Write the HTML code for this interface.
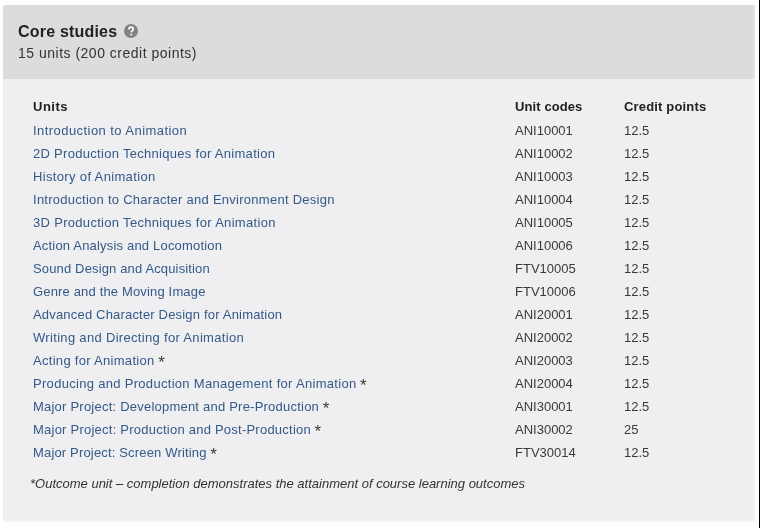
<!DOCTYPE html>
<html><head><meta charset="utf-8">
<style>
html,body{margin:0;padding:0;background:#fefefe;width:760px;height:528px;overflow:hidden;position:relative;font-family:"Liberation Sans",sans-serif;}
#vline{position:absolute;left:759px;top:0;width:1px;height:528px;background:#000;}
#panel{position:absolute;left:3px;top:5px;width:752px;height:517px;background:#f4f4f5;border-radius:2px;overflow:hidden;}
#bodyp{position:absolute;left:0;top:74px;width:750px;height:441px;background:#efeef0;}
#hdr{position:absolute;left:0;top:0;width:750px;height:74px;background:#dcdcdc;border-right:2px solid #e3e3e3;}
#title{position:absolute;left:15px;top:18px;font-size:16px;letter-spacing:0.2px;font-weight:bold;color:#222;white-space:nowrap;}
#q{position:absolute;left:121px;top:19px;width:14px;height:14px;border-radius:50%;background:#828282;}
#sub{position:absolute;left:15px;top:40px;font-size:14px;letter-spacing:0.5px;color:#333;white-space:nowrap;}
.t{position:absolute;white-space:nowrap;font-size:13px;line-height:15px;color:#3a3a3a;}
.c{left:515px;}
.p{left:624px;}
.h{font-weight:bold;color:#222;top:99px;}
.l{color:#335a89;}
.a{font-size:17px;line-height:0;position:relative;top:3px;margin-left:3.6px;}
#foot{position:absolute;left:30px;top:476px;font-size:13px;font-style:italic;color:#333;white-space:nowrap;}
#wrap{position:absolute;left:0;top:0;width:760px;height:528px;will-change:transform;}
</style></head><body><div id="wrap">
<div id="panel"><div id="bodyp"></div>
  <div id="hdr">
    <div id="title">Core studies</div>
    <div id="q"><svg width="14" height="14" viewBox="0 0 14 14"><path d="M4.9 5.4C4.9 3.9 5.8 3.1 7.1 3.1C8.4 3.1 9.3 3.9 9.3 5.1C9.3 6.5 7.3 6.7 7.3 8.3" fill="none" stroke="#fff" stroke-width="1.7"/><circle cx="7.3" cy="10.6" r="1.0" fill="#fff"/></svg></div>
    <div id="sub">15 units (200 credit points)</div>
  </div>
</div>
<div id="vline"></div>
<div class="t h" style="left:33px;letter-spacing:0.5px">Units</div>
<div class="t h c" style="letter-spacing:0.1px">Unit codes</div>
<div class="t h p" style="letter-spacing:0.17px">Credit points</div>
<div class="t" style="top:123px;left:33px"><span class="l" style="letter-spacing:0.442px">Introduction to Animation</span></div>
<div class="t c" style="top:123px">ANI10001</div>
<div class="t p" style="top:123px">12.5</div>
<div class="t" style="top:146px;left:33px"><span class="l" style="letter-spacing:0.297px">2D Production Techniques for Animation</span></div>
<div class="t c" style="top:146px">ANI10002</div>
<div class="t p" style="top:146px">12.5</div>
<div class="t" style="top:169px;left:33px"><span class="l" style="letter-spacing:0.347px">History of Animation</span></div>
<div class="t c" style="top:169px">ANI10003</div>
<div class="t p" style="top:169px">12.5</div>
<div class="t" style="top:192px;left:33px"><span class="l" style="letter-spacing:0.264px">Introduction to Character and Environment Design</span></div>
<div class="t c" style="top:192px">ANI10004</div>
<div class="t p" style="top:192px">12.5</div>
<div class="t" style="top:215px;left:33px"><span class="l" style="letter-spacing:0.308px">3D Production Techniques for Animation</span></div>
<div class="t c" style="top:215px">ANI10005</div>
<div class="t p" style="top:215px">12.5</div>
<div class="t" style="top:238px;left:33px"><span class="l" style="letter-spacing:0.186px">Action Analysis and Locomotion</span></div>
<div class="t c" style="top:238px">ANI10006</div>
<div class="t p" style="top:238px">12.5</div>
<div class="t" style="top:261px;left:33px"><span class="l" style="letter-spacing:0.148px">Sound Design and Acquisition</span></div>
<div class="t c" style="top:261px">FTV10005</div>
<div class="t p" style="top:261px">12.5</div>
<div class="t" style="top:284px;left:33px"><span class="l" style="letter-spacing:0.160px">Genre and the Moving Image</span></div>
<div class="t c" style="top:284px">FTV10006</div>
<div class="t p" style="top:284px">12.5</div>
<div class="t" style="top:307px;left:33px"><span class="l" style="letter-spacing:0.184px">Advanced Character Design for Animation</span></div>
<div class="t c" style="top:307px">ANI20001</div>
<div class="t p" style="top:307px">12.5</div>
<div class="t" style="top:330px;left:33px"><span class="l" style="letter-spacing:0.318px">Writing and Directing for Animation</span></div>
<div class="t c" style="top:330px">ANI20002</div>
<div class="t p" style="top:330px">12.5</div>
<div class="t" style="top:353px;left:33px"><span class="l" style="letter-spacing:0.295px">Acting for Animation</span><span class="a">*</span></div>
<div class="t c" style="top:353px">ANI20003</div>
<div class="t p" style="top:353px">12.5</div>
<div class="t" style="top:376px;left:33px"><span class="l" style="letter-spacing:0.304px">Producing and Production Management for Animation</span><span class="a">*</span></div>
<div class="t c" style="top:376px">ANI20004</div>
<div class="t p" style="top:376px">12.5</div>
<div class="t" style="top:399px;left:33px"><span class="l" style="letter-spacing:0.223px">Major Project: Development and Pre-Production</span><span class="a">*</span></div>
<div class="t c" style="top:399px">ANI30001</div>
<div class="t p" style="top:399px">12.5</div>
<div class="t" style="top:422px;left:33px"><span class="l" style="letter-spacing:0.236px">Major Project: Production and Post-Production</span><span class="a">*</span></div>
<div class="t c" style="top:422px">ANI30002</div>
<div class="t p" style="top:422px">25</div>
<div class="t" style="top:445px;left:33px"><span class="l" style="letter-spacing:0.164px">Major Project: Screen Writing</span><span class="a">*</span></div>
<div class="t c" style="top:445px">FTV30014</div>
<div class="t p" style="top:445px">12.5</div>
<div id="foot">*Outcome unit – completion demonstrates the attainment of course learning outcomes</div>
</div></body></html>
